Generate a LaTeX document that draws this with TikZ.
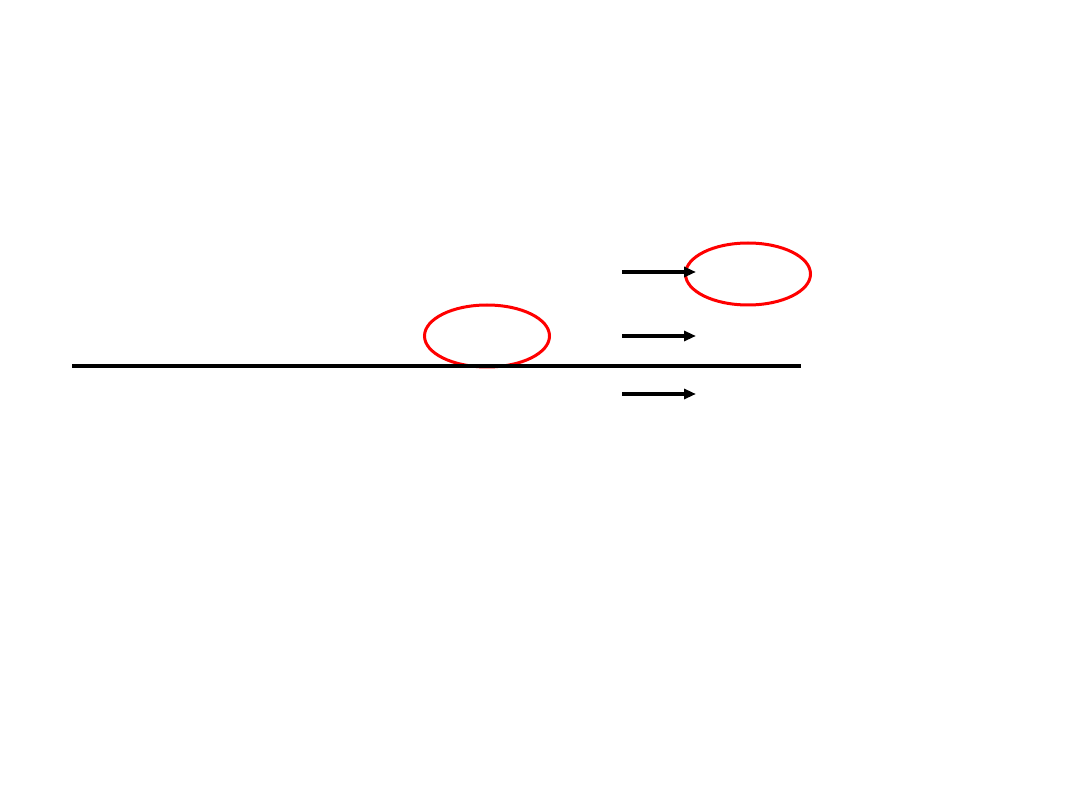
\documentclass[tikz,border=0pt]{standalone}
\usetikzlibrary{shapes.geometric,arrows.meta}
\begin{document}
\begin{tikzpicture}[x=1pt,y=-1pt,
  ring/.style={draw=red,line width=3pt,ellipse,minimum width=125pt,minimum height=62pt,inner sep=0pt},
  flow/.style={line width=3.5pt,-{Triangle[length=12pt,width=10pt]}},
  base/.style={line width=4pt}]
\useasboundingbox (0,0) rectangle (1080,810);
\node[ring] (e1) at (748,274) {};
\node[ring] (e2) at (487,336) {};
\coordinate (l1) at (72,366);
\coordinate (l2) at (801,366);
\draw[base] (l1) -- (l2);
\coordinate (a1s) at (622,272); \coordinate (a1e) at (696,272);
\coordinate (a2s) at (622,336); \coordinate (a2e) at (696,336);
\coordinate (a3s) at (622,394); \coordinate (a3e) at (696,394);
\draw[flow] (a1s) -- (a1e);
\draw[flow] (a2s) -- (a2e);
\draw[flow] (a3s) -- (a3e);
\end{tikzpicture}
\end{document}
